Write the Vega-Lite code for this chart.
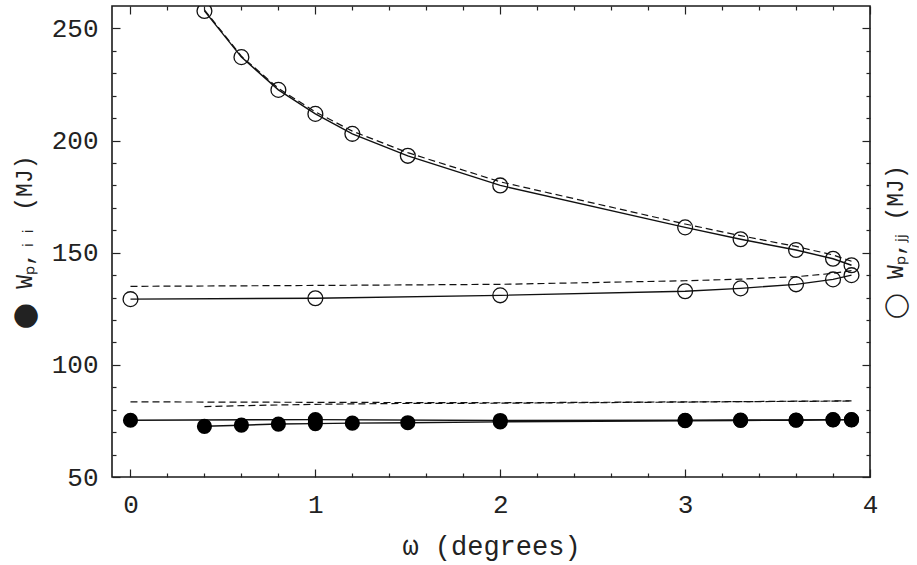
{
  "$schema": "https://vega.github.io/schema/vega-lite/v6.json",
  "width": 758,
  "height": 471,
  "autosize": {"type": "none"},
  "padding": {"left": 112, "top": 6, "right": 47, "bottom": 88},
  "background": "white",
  "config": {
    "view": {"stroke": "#1a1a1a", "strokeWidth": 1.6},
    "axis": {
      "grid": false, "domain": false,
      "labelFont": "Liberation Mono", "titleFont": "Liberation Mono",
      "labelFontSize": 26, "titleFontSize": 23,
      "labelColor": "#222", "titleColor": "#222", "tickColor": "#222", "tickWidth": 1.2,
      "titleFontWeight": "normal", "labelFlush": false, "labelOverlap": false
    }
  },
  "data": {"values": [
    {"s":"ii","b":"A","k":"sim","w":0,"v":75.3},{"s":"ii","b":"A","k":"sim","w":1,"v":75.6},{"s":"ii","b":"A","k":"sim","w":2,"v":75.2},{"s":"ii","b":"A","k":"sim","w":3,"v":75.3},{"s":"ii","b":"A","k":"sim","w":3.3,"v":75.4},{"s":"ii","b":"A","k":"sim","w":3.6,"v":75.4},{"s":"ii","b":"A","k":"sim","w":3.8,"v":75.6},{"s":"ii","b":"A","k":"sim","w":3.9,"v":75.6},
    {"s":"ii","b":"B","k":"sim","w":0.4,"v":72.6},{"s":"ii","b":"B","k":"sim","w":0.6,"v":73.1},{"s":"ii","b":"B","k":"sim","w":0.8,"v":73.6},{"s":"ii","b":"B","k":"sim","w":1,"v":73.8},{"s":"ii","b":"B","k":"sim","w":1.2,"v":74.0},{"s":"ii","b":"B","k":"sim","w":1.5,"v":74.2},{"s":"ii","b":"B","k":"sim","w":2,"v":74.6},{"s":"ii","b":"B","k":"sim","w":3,"v":75.1},{"s":"ii","b":"B","k":"sim","w":3.3,"v":75.2},{"s":"ii","b":"B","k":"sim","w":3.6,"v":75.3},{"s":"ii","b":"B","k":"sim","w":3.8,"v":75.5},{"s":"ii","b":"B","k":"sim","w":3.9,"v":75.5},
    {"s":"ii","b":"A","k":"theory","w":0,"v":83.5},{"s":"ii","b":"A","k":"theory","w":1,"v":83.3},{"s":"ii","b":"A","k":"theory","w":2,"v":83.1},{"s":"ii","b":"A","k":"theory","w":3,"v":83.5},{"s":"ii","b":"A","k":"theory","w":3.3,"v":83.6},{"s":"ii","b":"A","k":"theory","w":3.6,"v":83.8},{"s":"ii","b":"A","k":"theory","w":3.8,"v":83.9},{"s":"ii","b":"A","k":"theory","w":3.9,"v":83.9},
    {"s":"ii","b":"B","k":"theory","w":0.4,"v":81.4},{"s":"ii","b":"B","k":"theory","w":0.6,"v":81.8},{"s":"ii","b":"B","k":"theory","w":0.8,"v":82.1},{"s":"ii","b":"B","k":"theory","w":1,"v":82.4},{"s":"ii","b":"B","k":"theory","w":1.2,"v":82.6},{"s":"ii","b":"B","k":"theory","w":1.5,"v":82.8},{"s":"ii","b":"B","k":"theory","w":2,"v":82.9},{"s":"ii","b":"B","k":"theory","w":3,"v":83.4},{"s":"ii","b":"B","k":"theory","w":3.3,"v":83.6},{"s":"ii","b":"B","k":"theory","w":3.6,"v":83.7},{"s":"ii","b":"B","k":"theory","w":3.8,"v":83.8},{"s":"ii","b":"B","k":"theory","w":3.9,"v":83.9},
    {"s":"jj","b":"U","k":"sim","w":0.4,"v":257.8},{"s":"jj","b":"U","k":"sim","w":0.6,"v":237.2},{"s":"jj","b":"U","k":"sim","w":0.8,"v":222.6},{"s":"jj","b":"U","k":"sim","w":1,"v":211.9},{"s":"jj","b":"U","k":"sim","w":1.2,"v":203.0},{"s":"jj","b":"U","k":"sim","w":1.5,"v":193.2},{"s":"jj","b":"U","k":"sim","w":2,"v":180.0},{"s":"jj","b":"U","k":"sim","w":3,"v":161.3},{"s":"jj","b":"U","k":"sim","w":3.3,"v":156.0},{"s":"jj","b":"U","k":"sim","w":3.6,"v":151.2},{"s":"jj","b":"U","k":"sim","w":3.8,"v":147.3},{"s":"jj","b":"U","k":"sim","w":3.9,"v":144.4},
    {"s":"jj","b":"L","k":"sim","w":0,"v":129.3},{"s":"jj","b":"L","k":"sim","w":1,"v":129.7},{"s":"jj","b":"L","k":"sim","w":2,"v":131.0},{"s":"jj","b":"L","k":"sim","w":3,"v":132.8},{"s":"jj","b":"L","k":"sim","w":3.3,"v":134.1},{"s":"jj","b":"L","k":"sim","w":3.6,"v":135.9},{"s":"jj","b":"L","k":"sim","w":3.8,"v":138.1},{"s":"jj","b":"L","k":"sim","w":3.9,"v":140.0},
    {"s":"jj","b":"U","k":"theory","w":0.4,"v":258.3},{"s":"jj","b":"U","k":"theory","w":0.6,"v":237.6},{"s":"jj","b":"U","k":"theory","w":0.8,"v":223.3},{"s":"jj","b":"U","k":"theory","w":1,"v":212.8},{"s":"jj","b":"U","k":"theory","w":1.2,"v":204.2},{"s":"jj","b":"U","k":"theory","w":1.5,"v":194.6},{"s":"jj","b":"U","k":"theory","w":2,"v":181.6},{"s":"jj","b":"U","k":"theory","w":3,"v":162.8},{"s":"jj","b":"U","k":"theory","w":3.3,"v":157.6},{"s":"jj","b":"U","k":"theory","w":3.6,"v":152.8},{"s":"jj","b":"U","k":"theory","w":3.8,"v":149.0},{"s":"jj","b":"U","k":"theory","w":3.9,"v":146.2},
    {"s":"jj","b":"L","k":"theory","w":0,"v":135.0},{"s":"jj","b":"L","k":"theory","w":1,"v":135.4},{"s":"jj","b":"L","k":"theory","w":2,"v":135.9},{"s":"jj","b":"L","k":"theory","w":3,"v":137.5},{"s":"jj","b":"L","k":"theory","w":3.3,"v":138.2},{"s":"jj","b":"L","k":"theory","w":3.6,"v":139.3},{"s":"jj","b":"L","k":"theory","w":3.8,"v":140.8},{"s":"jj","b":"L","k":"theory","w":3.9,"v":142.0}
  ]},
  "resolve": {"axis": {"x": "independent", "y": "independent"}},
  "layer": [
    {
      "transform": [{"filter": "datum.k === 'sim'"}],
      "mark": {"type": "line", "color": "#111", "strokeWidth": 1.4, "clip": true},
      "encoding": {
        "x": {"field": "w", "type": "quantitative", "scale": {"domain": [-0.1, 4.0], "nice": false, "zero": false},
          "axis": {"orient": "bottom", "values": [0,0.2,0.4,0.6,0.8,1,1.2,1.4,1.6,1.8,2,2.2,2.4,2.6,2.8,3,3.2,3.4,3.6,3.8,4],
            "tickSize": {"condition": {"test": "datum.value % 1 === 0", "value": -8}, "value": -4},
            "labelExpr": "datum.value % 1 === 0 ? format(datum.value, 'd') : ''",
            "labelPadding": 22, "title": "ω (degrees)", "titleFontSize": 27, "titlePadding": 12}},
        "y": {"field": "v", "type": "quantitative", "scale": {"domain": [50, 260], "nice": false, "zero": false},
          "axis": {"orient": "left", "values": [50,60,70,80,90,100,110,120,130,140,150,160,170,180,190,200,210,220,230,240,250],
            "tickSize": {"condition": {"test": "datum.value % 50 === 0", "value": -8}, "value": -4},
            "labelExpr": "datum.value % 50 === 0 ? format(datum.value, 'd') : ''",
            "labelPadding": 22, "title": "⬤ Wₚ,ᵢᵢ (MJ)", "titlePadding": 15}},
        "detail": [{"field": "s"}, {"field": "b"}],
        "order": {"field": "w", "type": "quantitative"}
      }
    },
    {
      "transform": [{"filter": "datum.k === 'theory'"}],
      "mark": {"type": "line", "color": "#111", "strokeWidth": 1.2, "strokeDash": [7, 4], "clip": true},
      "encoding": {
        "x": {"field": "w", "type": "quantitative",
          "axis": {"orient": "top", "values": [0,0.2,0.4,0.6,0.8,1,1.2,1.4,1.6,1.8,2,2.2,2.4,2.6,2.8,3,3.2,3.4,3.6,3.8,4],
            "tickSize": {"condition": {"test": "datum.value % 1 === 0", "value": -8}, "value": -4},
            "labels": false, "title": null}},
        "y": {"field": "v", "type": "quantitative",
          "axis": {"orient": "right", "values": [50,60,70,80,90,100,110,120,130,140,150,160,170,180,190,200,210,220,230,240,250],
            "tickSize": {"condition": {"test": "datum.value % 50 === 0", "value": -8}, "value": -4},
            "labels": false, "title": "◯ Wₚ,ⱼⱼ (MJ)", "titleAngle": 270, "titlePadding": 37}},
        "detail": [{"field": "s"}, {"field": "b"}],
        "order": {"field": "w", "type": "quantitative"}
      }
    },
    {
      "transform": [{"filter": "datum.k === 'sim' && datum.s === 'ii'"}],
      "mark": {"type": "point", "shape": "circle", "filled": true, "color": "#000", "size": 230, "opacity": 1, "clip": true},
      "encoding": {
        "x": {"field": "w", "type": "quantitative", "axis": null},
        "y": {"field": "v", "type": "quantitative", "axis": null}
      }
    },
    {
      "transform": [{"filter": "datum.k === 'sim' && datum.s === 'jj'"}],
      "mark": {"type": "point", "shape": "circle", "filled": false, "color": "#111", "strokeWidth": 1.3, "size": 220, "opacity": 1, "clip": true},
      "encoding": {
        "x": {"field": "w", "type": "quantitative", "axis": null},
        "y": {"field": "v", "type": "quantitative", "axis": null}
      }
    }
  ]
}
